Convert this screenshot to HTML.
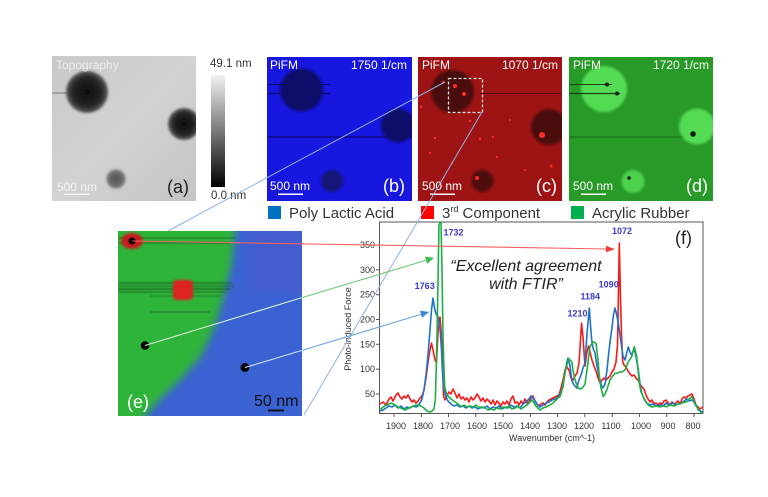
<!DOCTYPE html>
<html><head><meta charset="utf-8"><style>
html,body{margin:0;padding:0;background:#fff;}
svg{display:block;}
text{font-family:"Liberation Sans",Arial,sans-serif;}
</style></head><body>
<svg width="768" height="497" viewBox="0 0 768 497" xmlns="http://www.w3.org/2000/svg">
<defs>
<filter id="b1" x="-20%" y="-20%" width="140%" height="140%"><feGaussianBlur stdDeviation="1.2"/></filter>
<filter id="b2" x="-20%" y="-20%" width="140%" height="140%"><feGaussianBlur stdDeviation="4"/></filter>
<filter id="b3" x="-20%" y="-50%" width="140%" height="200%"><feGaussianBlur stdDeviation="0.8"/></filter>
<linearGradient id="cb" x1="0" y1="0" x2="0" y2="1"><stop offset="0" stop-color="#f2f2f2"/><stop offset="1" stop-color="#000"/></linearGradient>
<radialGradient id="ga"><stop offset="0" stop-color="#0c0c0c"/><stop offset="0.7" stop-color="#262626"/><stop offset="1" stop-color="#5a5a5a"/></radialGradient>
<radialGradient id="ga3"><stop offset="0" stop-color="#505050"/><stop offset="1" stop-color="#7a7a7a"/></radialGradient>
<linearGradient id="abg" x1="0" y1="0" x2="1" y2="1"><stop offset="0" stop-color="#c9c9c9"/><stop offset="0.5" stop-color="#d2d2d2"/><stop offset="1" stop-color="#c4c4c4"/></linearGradient>
<clipPath id="ce"><rect x="118" y="231" width="184" height="185"/></clipPath>
<clipPath id="cp"><rect x="379.5" y="222" width="323.5" height="191.5"/></clipPath>
<clipPath id="ca"><rect x="52" y="56" width="144" height="145"/></clipPath>
<clipPath id="cbp"><rect x="267" y="57" width="145" height="144"/></clipPath>
<clipPath id="ccp"><rect x="418" y="57" width="144" height="144"/></clipPath>
<clipPath id="cdp"><rect x="569" y="57" width="144" height="144"/></clipPath>
</defs>

<!-- Panel (a) -->
<g clip-path="url(#ca)">
<rect x="52" y="56" width="144" height="145" fill="url(#abg)"/>
<line x1="52" y1="93" x2="86" y2="93" stroke="#777" stroke-width="1"/>
<circle cx="87" cy="92" r="21" fill="url(#ga)" filter="url(#b1)"/>
<circle cx="184" cy="124" r="16" fill="url(#ga)" filter="url(#b1)"/>
<circle cx="116" cy="179" r="9.5" fill="url(#ga3)" filter="url(#b1)"/>
</g>
<text x="56" y="69" font-size="12" fill="#ececec">Topography</text>
<text x="57" y="191" font-size="12" fill="#f4f4f4">500 nm</text>
<rect x="64" y="193.5" width="25" height="1.5" fill="#f4f4f4"/>
<text x="167" y="193" font-size="18" fill="#222">(a)</text>

<!-- colorbar -->
<rect x="211" y="75" width="14" height="112" fill="url(#cb)"/>
<text x="210" y="67" font-size="11.5" fill="#333">49.1 nm</text>
<text x="211" y="199" font-size="11.5" fill="#333">0.0 nm</text>

<!-- Panel (b) -->
<g clip-path="url(#cbp)">
<rect x="267" y="57" width="145" height="144" fill="#1717df"/>
<line x1="267" y1="84.5" x2="330" y2="84.5" stroke="#0b0b70" stroke-width="1"/>
<line x1="267" y1="93.5" x2="330" y2="93.5" stroke="#0b0b70" stroke-width="1.2"/>
<line x1="267" y1="137" x2="412" y2="137" stroke="#0b0b80" stroke-width="1.5"/>
<circle cx="301.5" cy="90" r="21.5" fill="#11116a" filter="url(#b1)"/>
<circle cx="398" cy="125.5" r="17" fill="#11116a" filter="url(#b1)"/>
<circle cx="332" cy="181" r="11" fill="#141478" filter="url(#b1)"/>
</g>
<text x="270" y="69" font-size="12" fill="#fff">PiFM</text>
<text x="407" y="69" font-size="12" fill="#fff" text-anchor="end">1750 1/cm</text>
<text x="270" y="190" font-size="12" fill="#fff">500 nm</text>
<rect x="278" y="193.5" width="25" height="1.5" fill="#fff"/>
<text x="383" y="192" font-size="18" fill="#fff">(b)</text>

<!-- Panel (c) -->
<g clip-path="url(#ccp)">
<rect x="418" y="57" width="144" height="144" fill="#9e1414"/>
<line x1="480" y1="93.5" x2="562" y2="93.5" stroke="#5a0a0a" stroke-width="1"/>
<circle cx="452.5" cy="91.5" r="21.5" fill="#4a0c0c" filter="url(#b1)"/>
<circle cx="549" cy="127" r="18" fill="#4a0c0c" filter="url(#b1)"/>
<circle cx="482.5" cy="181" r="11" fill="#4e0d0d" filter="url(#b1)"/>
<g fill="#ff2a2a">
<circle cx="455" cy="86" r="2"/><circle cx="464" cy="94" r="2"/><circle cx="542" cy="135" r="3"/><circle cx="477" cy="178" r="2"/>
<circle cx="421" cy="107" r="1.3"/><circle cx="470" cy="121" r="1.3"/><circle cx="435" cy="138" r="1.2"/><circle cx="480" cy="139" r="1.2"/>
<circle cx="493" cy="137" r="1.1"/><circle cx="430" cy="153" r="1.1"/><circle cx="452" cy="163" r="1.1"/><circle cx="497" cy="157" r="1.1"/>
<circle cx="551" cy="166" r="1.5"/><circle cx="443" cy="82" r="1.2"/><circle cx="510" cy="120" r="1"/><circle cx="525" cy="170" r="1"/>
</g>
<rect x="448.5" y="78.5" width="34" height="34" fill="none" stroke="#ddd" stroke-width="1.3" stroke-dasharray="3,2"/>
</g>
<text x="422" y="69" font-size="12" fill="#fff">PiFM</text>
<text x="558" y="69" font-size="12" fill="#fff" text-anchor="end">1070 1/cm</text>
<text x="422" y="190" font-size="12" fill="#fff">500 nm</text>
<rect x="430" y="193.5" width="25" height="1.5" fill="#fff"/>
<text x="536" y="192" font-size="18" fill="#fff">(c)</text>

<!-- Panel (d) -->
<g clip-path="url(#cdp)">
<rect x="569" y="57" width="144" height="144" fill="#279a27"/>
<line x1="569" y1="137" x2="713" y2="137" stroke="#1a6a1a" stroke-width="1"/>
<circle cx="604" cy="89" r="23" fill="#52dc52" filter="url(#b1)"/>
<circle cx="697" cy="126.5" r="18" fill="#52dc52" filter="url(#b1)"/>
<circle cx="633" cy="181.5" r="11.5" fill="#4ed24e" filter="url(#b1)"/>
<line x1="569" y1="84.5" x2="612" y2="84.5" stroke="#114411" stroke-width="1"/>
<line x1="569" y1="93.5" x2="620" y2="93.5" stroke="#114411" stroke-width="1.2"/>
<g fill="#0a200a">
<circle cx="607" cy="84.5" r="2"/><circle cx="617" cy="93.5" r="2"/><circle cx="693" cy="134" r="2.8"/><circle cx="629" cy="178" r="1.8"/>
</g>
</g>
<text x="573" y="69" font-size="12" fill="#fff">PiFM</text>
<text x="709" y="69" font-size="12" fill="#fff" text-anchor="end">1720 1/cm</text>
<text x="573" y="190" font-size="12" fill="#fff">500 nm</text>
<rect x="581" y="193.5" width="25" height="1.5" fill="#fff"/>
<text x="686" y="192" font-size="18" fill="#fff">(d)</text>

<!-- Legend -->
<rect x="268" y="206" width="13" height="13" fill="#0070c0"/>
<text x="289" y="218" font-size="15" fill="#333">Poly Lactic Acid</text>
<rect x="421" y="206" width="13" height="13" fill="#ff0000"/>
<text x="442" y="218" font-size="15" fill="#333">3<tspan font-size="9" dy="-6">rd</tspan><tspan dy="6"> Component</tspan></text>
<rect x="571" y="206" width="13" height="13" fill="#00b050"/>
<text x="592" y="218" font-size="15" fill="#333">Acrylic Rubber</text>

<!-- Panel (e) -->
<g clip-path="url(#ce)">
<rect x="118" y="231" width="184" height="185" fill="#2fb43a"/>
<polygon points="236,220 310,220 310,425 138,425 163,396 181,379 201,356 214,329 224,296 232,262" fill="#3a62d2" filter="url(#b2)"/>
<rect x="250" y="231" width="52" height="60" fill="#5a55c8" opacity="0.35" filter="url(#b2)"/>
<g stroke="#164a1a" filter="url(#b3)" opacity="0.7">
<line x1="118" y1="238" x2="236" y2="238" stroke-width="1"/>
<line x1="118" y1="243" x2="230" y2="243" stroke-width="1"/>
<line x1="118" y1="283" x2="232" y2="283" stroke-width="1.2"/>
<line x1="118" y1="286" x2="234" y2="286" stroke-width="1"/>
<line x1="118" y1="289" x2="230" y2="289" stroke-width="1.4"/>
<line x1="118" y1="292" x2="226" y2="292" stroke-width="1"/>
<line x1="150" y1="296" x2="222" y2="296" stroke-width="0.8"/>
<line x1="150" y1="312" x2="210" y2="312" stroke-width="1"/>
</g>
<ellipse cx="132" cy="241" rx="11" ry="8" fill="#c81e1e" filter="url(#b1)"/>
<rect x="173" y="280" width="20" height="20" rx="4" fill="#dd2222" filter="url(#b1)"/>
<circle cx="132" cy="241" r="3.5" fill="#000"/>
<circle cx="145" cy="345.5" r="4.3" fill="#000"/>
<circle cx="245" cy="367.5" r="4.5" fill="#000"/>
</g>
<text x="127" y="408" font-size="18" fill="#fff">(e)</text>
<text x="254" y="406" font-size="16" fill="#111">50 nm</text>
<rect x="268" y="409.5" width="16" height="2" fill="#111"/>

<!-- Chart -->
<rect x="379.5" y="222" width="323.5" height="191.5" fill="#fff" stroke="#555" stroke-width="1"/>
<g stroke="#555" stroke-width="1">
<line x1="376" y1="394" x2="379.5" y2="394"/><line x1="376" y1="369.2" x2="379.5" y2="369.2"/><line x1="376" y1="344.3" x2="379.5" y2="344.3"/>
<line x1="376" y1="319.5" x2="379.5" y2="319.5"/><line x1="376" y1="294.7" x2="379.5" y2="294.7"/><line x1="376" y1="269.8" x2="379.5" y2="269.8"/><line x1="376" y1="245" x2="379.5" y2="245"/>
<line x1="394" y1="413.5" x2="394" y2="417"/><line x1="421.3" y1="413.5" x2="421.3" y2="417"/><line x1="448.5" y1="413.5" x2="448.5" y2="417"/>
<line x1="475.8" y1="413.5" x2="475.8" y2="417"/><line x1="503.1" y1="413.5" x2="503.1" y2="417"/><line x1="530.4" y1="413.5" x2="530.4" y2="417"/>
<line x1="557.6" y1="413.5" x2="557.6" y2="417"/><line x1="584.9" y1="413.5" x2="584.9" y2="417"/><line x1="612.2" y1="413.5" x2="612.2" y2="417"/>
<line x1="639.4" y1="413.5" x2="639.4" y2="417"/><line x1="666.7" y1="413.5" x2="666.7" y2="417"/><line x1="694" y1="413.5" x2="694" y2="417"/>
</g>
<g font-size="9" fill="#333" text-anchor="end">
<text x="375" y="397">50</text><text x="375" y="372.2">100</text><text x="375" y="347.3">150</text><text x="375" y="322.5">200</text>
<text x="375" y="297.7">250</text><text x="375" y="272.8">300</text><text x="375" y="248">350</text>
</g>
<g font-size="9" fill="#333" text-anchor="middle">
<text x="396" y="429">1900</text><text x="423" y="429">1800</text><text x="450" y="429">1700</text><text x="477" y="429">1600</text>
<text x="503" y="429">1500</text><text x="530" y="429">1400</text><text x="557" y="429">1300</text><text x="584" y="429">1200</text>
<text x="611" y="429">1100</text><text x="641" y="429">1000</text><text x="668" y="429">900</text><text x="693" y="429">800</text>
<text x="552" y="441">Wavenumber (cm^-1)</text>
</g>
<text transform="translate(351,329) rotate(-90)" font-size="9" fill="#333" text-anchor="middle">Photo-induced Force</text>

<g clip-path="url(#cp)" fill="none" stroke-width="1.6" stroke-linejoin="round">
<polyline stroke="#f21c1c" points="380,404 383,402 386,405 389,399 391,397 393,401 396,395 398,393 400,397 402,399 404,396 406,398 408,395 410,399 412,402 414,400 416,403 418,401 420,398 422,396 424,390 426,378 428,362 430,350 431.5,343 433.5,352 435,360 436.5,363 438,332 440,317 441.5,336 442.5,362 443.5,396 445,400 447,395 449,392 451,394 453,389 455,393 457,398 459,394 461,399 463,397 465,400 467,398 469,402 471,397 473,400 475,398 477,394 479,397 481,401 483,398 485,402 487,399 489,401 491,404 493,400 495,405 497,401 499,403 501,406 503,402 505,404 507,401 509,405 511,399 513,396 515,403 517,402 519,405 521,401 523,404 525,399 527,403 529,402 531,398 533,396 535,401 537,404 539,406 541,404 543,403 545,405 547,402 549,400 551,399 553,398 555,397 557,396 559,395 561,388 563,380 565,370 567,367 569,370 571,378 573,380 575,376 577,373 579,363 580.5,340 581.5,323 583,337 585,366 587,352 588.5,346 590,352 592,360 594,366 596,371 598,378 600,383 602,380 604,378 606,380 608,378 610,376 612,372 614,369 616,362 617.5,345 618.5,290 619.3,243 620.3,290 621.5,335 622.7,362 624,365 626,367 628,371 630,374 632,376 634,375 636,378 638,380 640,384 642,387 644,389 646,395 648,399 650,402 652,400 654,404 656,403 658,405 660,403 662,404 664,401 666,400 668,403 670,405 672,402 674,404 676,403 678,401 680,404 682,399 684,397 686,398 688,396 690,395 692,394 694,399 696,405 698,407 700,409 703,407"/>
<polyline stroke="#1f72c8" points="380,411 383,410 386,408 389,406 392,407 395,405 398,408 401,406 404,409 407,407 410,408 413,406 416,407 418,406 420,403 422,399 424,390 426,375 428,355 430,330 431.5,310 433,298 434.5,308 436,314 438,317 440,328 441.5,350 442.5,372 444,390 446,397 448,401 451,404 454,406 457,405 460,407 463,406 466,408 469,406 472,408 475,407 478,409 481,407 484,408 487,406 490,409 493,407 496,408 499,406 502,409 505,407 508,408 511,405 514,407 517,406 520,408 523,404 526,402 529,399 531,396 533,398 535,401 537,404 540,407 543,405 546,403 549,402 552,400 555,399 557,398 559,396 561,392 563,387 565,372 566.7,363 568,358 570,366 572,381 574,385 576.7,388 579,380 581.7,373 583,368 585,363 587.3,330 589.3,308 590.5,325 591.7,340 593,348 595,353 597,366 599,376 601.7,386 603,388 605,384 607,370 608.3,357 610,342 611.7,330 613.5,315 615,308 616.5,314 618.3,323 620,335 621.7,347 623,356 625,360 627,352 628.3,347 630,352 631.7,355 633.5,350 635,352 637,362 638.3,370 640,384 641.7,393 644,399 646.7,403 650,405 653,404 656,406 660,405 663,406 666,403 669,405 673,403 676,405 679,404 682,403 684,401 686.7,399 689,401 691,400 693.3,401 695,404 697,407 698.3,410 700,411 703,412"/>
<polyline stroke="#1fae45" points="380,410 382,408 384.7,406 387,405 389,404 391.3,403 393,404 395,405 398,407 401,408 404.7,410 407,409 409,408 411.3,407 414,406 416,405 418,405 421,406 424,408 426,410 428,411.7 430,412 432,411 434,409 435.3,400 436.5,360 437.3,320 438.2,270 439,225 440,222 441,222 442,270 443,337 444,370 444.7,387 446.3,393 448,396 451,399 454.7,401.7 458,404 461.3,406.7 464,405 467,407 470,406 473,407 476,405 478,406.7 481,408 484,407 488,410 491,409 494,410 497,408 500,409 503,407 506,408 509,406 512,409 515,408 518,406 521,409 524,407 527,405 530,402 532,400 534,403 536,406 538,408 540,410 543,408 546,407 550,405 553,403 556,400 558,398 560,396.7 562,390 565,373.3 568.3,358.3 571.7,361.7 573,370 575,380 578.3,388.3 581,389 583.3,386.7 585,384 587,370 590,346.7 592.7,341.7 596,343.3 598,360 599.3,376.7 601,388 603.3,396.7 605,394 606.7,390 610,380 612,377 615,373.3 618,373 620,371.7 622,372 625,370 628.3,361.7 631.7,356.7 634.3,346.7 636.7,356.7 638,370 639.3,383.3 641,392 643.3,396.7 646,402 648.3,405 652,407 656,406 660,407 663,406 666.7,406.7 670,405 674,406 678,404 682,403 686.7,401.7 689,399 691.7,396.7 694,401 696.7,406.7 699,410 701.7,413.3"/>
</g>

<!-- peak labels -->
<g font-size="9" font-weight="bold" fill="#3b3bd0" text-anchor="middle">
<text x="453.5" y="235.5">1732</text><text x="424.7" y="289">1763</text><text x="622" y="234">1072</text>
<text x="608.7" y="287.3">1090</text><text x="590.3" y="299.3">1184</text><text x="577.5" y="316.6">1210</text>
</g>
<text x="526" y="271" font-size="16" font-style="italic" fill="#222" text-anchor="middle">“Excellent agreement</text>
<text x="526" y="289" font-size="16" font-style="italic" fill="#222" text-anchor="middle">with FTIR”</text>
<text x="675" y="244" font-size="18" fill="#222">(f)</text>

<!-- connecting lines -->
<g stroke="#8db3e2" stroke-width="1" fill="none">
<line x1="445" y1="82" x2="168" y2="231"/>
<line x1="482" y1="112" x2="304" y2="415"/>
</g>
<line x1="132" y1="241" x2="608" y2="249" stroke="#f26060" stroke-width="1.1"/>
<polygon points="615,249.1 606,245.8 606,252.4" fill="#f24040"/>
<line x1="145" y1="345.5" x2="302" y2="297.6" stroke="#d8f2d8" stroke-width="1.1"/>
<line x1="302" y1="297.6" x2="427" y2="260" stroke="#6cc86c" stroke-width="1.1"/>
<polygon points="434,257.8 425,256.6 427.2,263.8" fill="#3cb84c"/>
<line x1="245" y1="367.5" x2="302" y2="350.4" stroke="#cfe0ff" stroke-width="1.1"/>
<line x1="302" y1="350.4" x2="422" y2="314" stroke="#6aa4dd" stroke-width="1.1"/>
<polygon points="429,312 420,310.6 422,317.8" fill="#3a86d2"/>
</svg>
</body></html>
